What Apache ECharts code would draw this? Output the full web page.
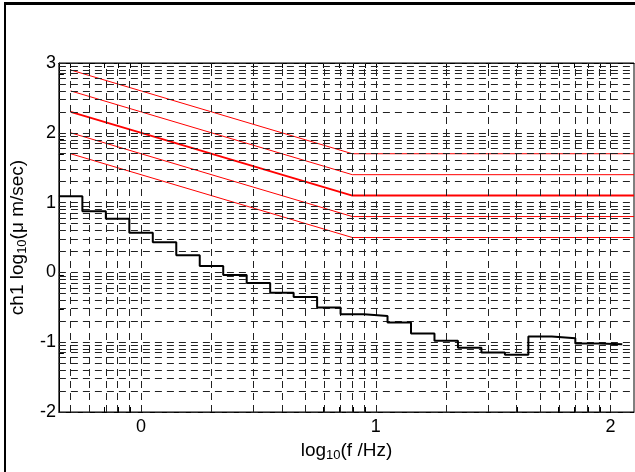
<!DOCTYPE html>
<html>
<head>
<meta charset="utf-8">
<script src="https://cdn.jsdelivr.net/npm/echarts@6/dist/echarts.min.js"></script>
<style>
  html,body{margin:0;padding:0;background:#fff;}
  #chart{width:635px;height:472px;}
  #frame{position:absolute;left:4px;top:2px;width:700px;height:600px;z-index:5;
         border-left:2px solid #000;border-top:3px solid #000;pointer-events:none;}
</style>
</head>
<body>
<div id="chart"></div>
<div id="frame"></div>
<script>
// axis ranges and labels (log10 units)
const xRange = [-0.35, 2.1];
const yRange = [-2, 3];
const xLabels = [0, 1, 2];
const yLabels = [-2, -1, 0, 1, 2, 3];
const decadeSteps = [1, 2, 3, 4, 5, 6, 7, 8, 9];

// 1/3 octave band centres, log10(f/Hz), and measured level
const bandCentres = [-0.3, -0.2, -0.1, 0.0, 0.1, 0.2, 0.3, 0.4, 0.5, 0.6, 0.7, 0.8,
                     0.9, 1.0, 1.1, 1.2, 1.3, 1.4, 1.5, 1.6, 1.7, 1.8, 1.9, 2.0];
const bandLevels = [1.09, 0.876, 0.767, 0.567, 0.433, 0.247, 0.09, -0.039, -0.153, -0.29, -0.353, -0.504,
                    -0.60, -0.624, -0.719, -0.876, -0.98, -1.08, -1.147, -1.18, -0.92, -0.943, -1.02, -1.03];
const bandHalfWidth = 0.05;

// red limit curves
const limitX = [-0.3, 0.9, 2.1];
const limit1 = [2.9, 1.7, 1.7];
const limit2 = [2.6, 1.4, 1.4];
const limit3 = [2.3, 1.1, 1.1];
const limit4 = [2.0, 0.8, 0.8];
const limit5 = [1.7, 0.5, 0.5];

function logGrid(lo, hi){
  var out = [];
  for (var d = Math.floor(lo) - 1; d <= Math.ceil(hi); d++) {
    decadeSteps.forEach(function(k){
      var v = d + Math.log10(k);
      if (v >= lo - 1e-9 && v <= hi + 1e-9) out.push(+v.toFixed(5));
    });
  }
  return out;
}
const gridX = logGrid(xRange[0], xRange[1]);
const gridY = logGrid(yRange[0], yRange[1]);

function stepData(){
  var d = [];
  for (var i = 0; i < bandCentres.length; i++) {
    d.push([bandCentres[i] - bandHalfWidth, bandLevels[i]]);
  }
  d.push([bandCentres[bandCentres.length - 1] + bandHalfWidth, bandLevels[bandLevels.length - 1]]);
  return d;
}
function pairs(xs, ys){
  return xs.map(function(x, i){ return [x, ys[i]]; });
}

const font = 'Liberation Sans, Arial, sans-serif';
const chart = echarts.init(document.getElementById('chart'), null, {renderer: 'canvas'});

var gridLines = [];
gridX.forEach(function(v){ gridLines.push({xAxis: v}); });
gridY.forEach(function(v){ gridLines.push({yAxis: v}); });

function redLine(data, w){
  return {
    type: 'line', data: data, symbol: 'none', z: 4, silent: true,
    lineStyle: {color: '#ff0000', width: w}
  };
}
var subStyle = {fontSize: 13, fontFamily: font, color: '#000', verticalAlign: 'bottom', padding: [10, 0, 0, 0]};

var option = {
  animation: false,
  grid: {left: 54, top: 63, right: 1, bottom: 60, show: true, borderColor: '#000', borderWidth: 1},
  xAxis: [{
    type: 'value', min: xRange[0], max: xRange[1],
    splitLine: {show: false},
    axisLine: {onZero: false, lineStyle: {color: '#000', width: 1}},
    axisTick: {inside: true, length: 5, customValues: gridX, lineStyle: {color: '#000'}},
    axisLabel: {customValues: xLabels, color: '#000', fontSize: 18, fontFamily: font, margin: 6},
    name: 'log{sub|10}(f /Hz)', nameLocation: 'middle', nameGap: 25,
    nameTextStyle: {color: '#000', fontSize: 19, fontFamily: font, rich: {sub: subStyle}}
  }, {
    type: 'value', min: xRange[0], max: xRange[1], position: 'top',
    splitLine: {show: false},
    axisLine: {onZero: false, lineStyle: {color: '#000'}},
    axisTick: {inside: true, length: 5, customValues: gridX, lineStyle: {color: '#000'}},
    axisLabel: {show: false}
  }],
  yAxis: [{
    type: 'value', min: yRange[0], max: yRange[1],
    splitLine: {show: false},
    axisLine: {onZero: false, lineStyle: {color: '#000', width: 1}},
    axisTick: {inside: true, length: 5, customValues: gridY, lineStyle: {color: '#000'}},
    axisLabel: {customValues: yLabels, color: '#000', fontSize: 18, fontFamily: font, margin: 3},
    name: 'ch1 log{sub|10}(\u03bc m/sec)', nameLocation: 'middle', nameGap: 23, nameRotate: 90,
    nameTextStyle: {color: '#000', fontSize: 19, fontFamily: font, rich: {sub: subStyle}}
  }],
  series: [
    {
      type: 'line', data: [], z: 1, silent: true,
      markLine: {
        silent: true, symbol: ['none', 'none'], animation: false,
        label: {show: false},
        lineStyle: {color: '#222', width: 1, type: [7, 5]},
        emphasis: {disabled: true},
        data: gridLines
      }
    },
    redLine(pairs(limitX, limit1), 1),
    redLine(pairs(limitX, limit2), 1),
    redLine(pairs(limitX, limit3), 2),
    redLine(pairs(limitX, limit4), 1),
    redLine(pairs(limitX, limit5), 1),
    {
      type: 'line', data: stepData(), step: 'end', symbol: 'none', z: 5, silent: true,
      lineStyle: {color: '#000', width: 2}
    }
  ]
};
chart.setOption(option);
</script>
</body>
</html>
